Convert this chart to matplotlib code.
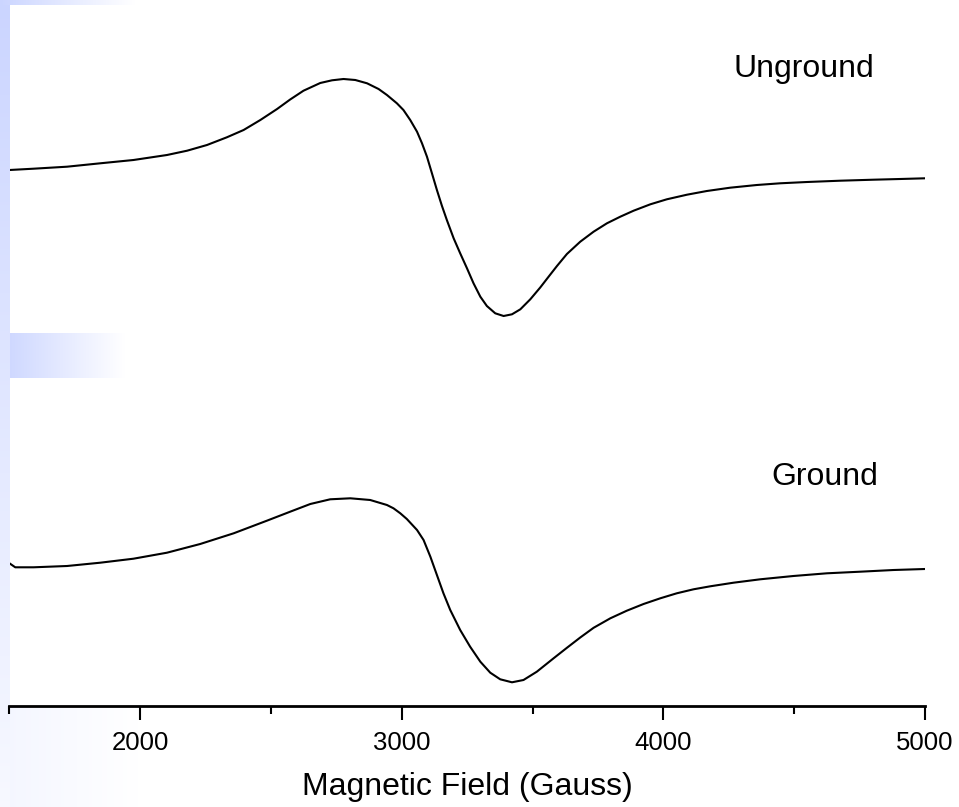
import numpy as np
import matplotlib
import matplotlib.pyplot as plt
from matplotlib.ticker import MultipleLocator
from matplotlib.colors import LinearSegmentedColormap

matplotlib.use('Agg')  # no display

plt.rcParams['font.family'] = ['Liberation Sans', 'DejaVu Sans']

# EPR first-derivative spectra (arb. units)
field_unground = [1500, 1592, 1720, 1847, 1974, 2102, 2179, 2255, 2331, 2395, 2459, 2523, 2573,
                  2624, 2688, 2733, 2777, 2822, 2867, 2911, 2943, 2981, 3006, 3032, 3058, 3077,
                  3096, 3115, 3134, 3153, 3172, 3198, 3223, 3249, 3274, 3300, 3325, 3357, 3389,
                  3421, 3453, 3491, 3529, 3561, 3593, 3631, 3682, 3733, 3784, 3835, 3886, 3950,
                  4013, 4090, 4166, 4255, 4357, 4446, 4549, 4676, 4803, 4905, 5000]
signal_unground = [6, 7.3, 9.3, 12.7, 16, 21, 25.3, 31, 38.7, 46, 56, 67, 76.5,
                   85.3, 93, 95.7, 97, 96, 92.7, 87, 81, 72.7, 66, 56, 44.3, 32.7,
                   19.3, 2.7, -14, -29.7, -44, -62.3, -77.3, -92.3, -107.3, -120.7, -130, -137.3, -140,
                   -138.3, -133.3, -123.3, -111.5, -100.7, -90, -78, -65.7, -55.7, -47.3, -40.7, -34.7, -28.3,
                   -23.3, -18.7, -15, -11.7, -9, -7.3, -6, -4.7, -3.7, -3, -2.3]

field_ground = [1500, 1522, 1592, 1720, 1847, 1974, 2102, 2229, 2357, 2484, 2573, 2650, 2726,
                2803, 2879, 2943, 2968, 2994, 3019, 3058, 3083, 3109, 3134, 3159, 3185, 3223,
                3261, 3300, 3338, 3376, 3421, 3465, 3516, 3580, 3631, 3682, 3733, 3797, 3860,
                3924, 3988, 4051, 4115, 4179, 4268, 4370, 4497, 4625, 4752, 4880, 5000]
signal_ground = [2.7, -1.3, -1.3, 0, 3.3, 7.3, 13.3, 22, 32.7, 45.3, 54.3, 62, 66.7,
                 67.7, 66, 61, 57.7, 52.7, 47, 36, 26, 9.3, -9, -27.3, -44, -64,
                 -80.7, -95.7, -106.7, -113.3, -116.3, -114, -105.7, -92.3, -81.8, -71.5, -61.8, -52.3, -44.7,
                 -38, -32.3, -27.3, -23.3, -20.3, -16.7, -13.3, -10, -7.3, -5.7, -4, -3]

labels = ['Unground', 'Ground']
x_ticks = [2000, 3000, 4000, 5000]

W, H = 959, 807
fig = plt.figure(figsize=(W / 100, H / 100), dpi=100)
fig.patch.set_facecolor('white')

# slide template decoration: blue strip on the left plus two fading bars
bg = fig.add_axes([0, 0, 1, 1], zorder=0)
bg.set_xlim(0, W)
bg.set_ylim(H, 0)
bg.axis('off')
fade = LinearSegmentedColormap.from_list('fade', ['#cbd5ff', '#ffffff'])
ramp = np.linspace(0, 1, 256)
bg.imshow(ramp[:, None] * 0.85, cmap=fade, vmin=0, vmax=1, aspect='auto',
          extent=(0, 10, H, 0))
bg.imshow(ramp[None, :], cmap=fade, vmin=0, vmax=1, aspect='auto',
          extent=(0, 135, 5, 0))
bg.imshow(0.08 + ramp[None, :], cmap=fade, vmin=0, vmax=1, aspect='auto',
          extent=(10, 135, 378, 333))
bg.imshow(0.8 + 0.2 * ramp[None, :], cmap=fade, vmin=0, vmax=1,
          aspect='auto', extent=(10, 140, H, 707))

ax = fig.add_axes([9.5 / W, (H - 706) / H, (925 - 9.5) / W, 706 / H], zorder=1)
ax.patch.set_alpha(0)

# stack the two traces
offsets = [530, 140]
for fld, sig, off in zip([field_unground, field_ground],
                         [signal_unground, signal_ground], offsets):
    ax.plot(fld, np.array(sig) + off, color='black', linewidth=1.5,
            solid_joinstyle='round', solid_capstyle='round')

ax.text(4266, 629, labels[0], fontsize=23, ha='left', va='baseline')
ax.text(4411, 221, labels[1], fontsize=23, ha='left', va='baseline')

ax.set_xlim(1500, 5000)
ax.set_ylim(0, 706)
for side in ['left', 'right', 'top']:
    ax.spines[side].set_visible(False)
ax.spines['bottom'].set_linewidth(2)
ax.set_yticks([])
ax.set_xticks(x_ticks)
ax.xaxis.set_minor_locator(MultipleLocator(500))
ax.tick_params(axis='x', which='major', length=10, width=1.5, labelsize=18.5, pad=8)
ax.tick_params(axis='x', which='minor', length=5.5, width=1.5)
ax.set_xlabel('Magnetic Field (Gauss)', fontsize=23, labelpad=12)

fig.savefig('out.png', dpi=100)
plt.close(fig)
